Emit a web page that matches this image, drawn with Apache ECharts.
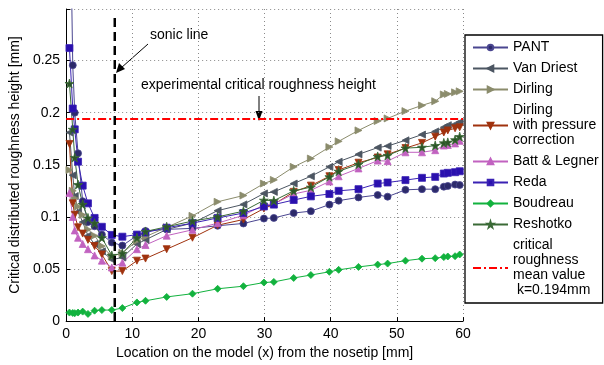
<!DOCTYPE html>
<html>
<head>
<meta charset="utf-8">
<script src="https://cdn.jsdelivr.net/npm/echarts@6/dist/echarts.min.js"></script>
<style>
  html, body { margin: 0; padding: 0; background: #fff; }
  #chart { width: 604px; height: 365px; }
</style>
</head>
<body>
<div id="chart"></div>
<script>
// stations along the model (mm from nosetip)
var stations = [0.5, 1.0, 1.3, 1.8, 2.5, 3.3, 4.3, 5.4, 6.9, 8.5, 10.7, 12.0, 15.2, 19.1, 22.9, 26.8, 29.9, 31.4,
  34.4, 37.0, 39.8, 41.2, 44.2, 47.1, 48.6, 51.3, 53.8, 55.8, 57.1, 57.7, 58.8, 59.5];

// critical roughness height per correlation [mm]
var pant = [0.45, 0.2456, 0.200, 0.161, 0.115, 0.095, 0.091, 0.083, 0.0755, 0.0725, 0.082, 0.0865, 0.088, 0.089, 0.0915, 0.0937,
  0.0984, 0.099, 0.1037, 0.1055, 0.1118, 0.1156, 0.1187, 0.121, 0.1194, 0.126, 0.1266, 0.1266, 0.129, 0.1297, 0.131, 0.1306];
var vanDriest = [0.181, 0.140, 0.120, 0.105, 0.095, 0.082, 0.074, 0.067, 0.059, 0.061, 0.074, 0.078, 0.088, 0.094, 0.106, 0.112,
  0.1225, 0.124, 0.132, 0.139, 0.148, 0.153, 0.160, 0.1665, 0.168, 0.1735, 0.179, 0.182, 0.186, 0.188, 0.189, 0.191];
var dirling = [0.145, 0.125, 0.118, 0.110, 0.102, 0.088, 0.082, 0.072, 0.062, 0.0655, 0.077, 0.081, 0.090, 0.101, 0.1145, 0.1205,
  0.132, 0.1355, 0.148, 0.156, 0.167, 0.1725, 0.183, 0.192, 0.1945, 0.2015, 0.207, 0.211, 0.2175, 0.218, 0.2195, 0.2205];
var dirlingP = [0.170, 0.113, 0.102, 0.090, 0.084, 0.078, 0.072, 0.064, 0.048, 0.048, 0.058, 0.060, 0.069, 0.080, 0.092, 0.0975,
  0.108, 0.112, 0.124, 0.130, 0.139, 0.145, 0.152, 0.157, 0.160, 0.166, 0.171, 0.177, 0.181, 0.183, 0.185, 0.186];
var batt = [0.123, 0.100, 0.087, 0.080, 0.074, 0.069, 0.063, 0.058, 0.0515, 0.056, 0.069, 0.073, 0.082, 0.0876, 0.094, 0.1015,
  0.1115, 0.1125, 0.122, 0.1255, 0.134, 0.139, 0.1465, 0.154, 0.1535, 0.162, 0.162, 0.164, 0.1685, 0.169, 0.1705, 0.173];
var reda = [0.262, 0.204, 0.184, 0.153, 0.130, 0.113, 0.099, 0.0905, 0.0827, 0.081, 0.083, 0.085, 0.0896, 0.094, 0.099, 0.1037,
  0.110, 0.1118, 0.1162, 0.1197, 0.122, 0.125, 0.1266, 0.132, 0.133, 0.1353, 0.1375, 0.1384, 0.1416, 0.1423, 0.1429, 0.1438];
var boudreau = [0.0082, 0.0078, 0.0076, 0.0082, 0.0091, 0.0069, 0.010, 0.0106, 0.0106, 0.0125, 0.0179, 0.0195, 0.0232, 0.0263,
  0.031, 0.0335, 0.037, 0.0376, 0.0414, 0.0442, 0.0473, 0.0492, 0.052, 0.0542, 0.0552, 0.058, 0.0599, 0.0604, 0.0614, 0.062, 0.0623, 0.0639];
var reshotko = [0.228, 0.184, 0.157, 0.131, 0.112, 0.099, 0.094, 0.080, 0.063, 0.065, 0.080, 0.086, 0.0905, 0.096, 0.100, 0.1055,
  0.116, 0.1156, 0.125, 0.1285, 0.1385, 0.1438, 0.1505, 0.158, 0.159, 0.166, 0.1668, 0.1685, 0.171, 0.1715, 0.174, 0.177];

var meanK = 0.194;      // experimental critical roughness mean value
var sonicX = 7.35;      // sonic line location
var xTicks = [0, 10, 20, 30, 40, 50, 60];
var yTicks = [0, 0.05, 0.1, 0.15, 0.2, 0.25];

var FONT = 'Liberation Sans, Arial, Helvetica, sans-serif';
var STAR = 'path://M50,0 L61,35 L98,35 L68,57 L79,91 L50,70 L21,91 L32,57 L2,35 L39,35 Z';
var MEAN_NAME = 'critical\nroughness\nmean value\n k=0.194mm';

function zip(ys) {
  return stations.map(function (x, i) { return [x, ys[i]]; });
}

function curve(name, ys, color, markColor, symbol, size, rotate) {
  return {
    name: name,
    type: 'line',
    data: zip(ys),
    symbol: symbol,
    symbolSize: size,
    symbolRotate: rotate || 0,
    clip: true,
    lineStyle: { color: color, width: 1 },
    itemStyle: { color: markColor, borderColor: color, borderWidth: 0.8 },
    z: 3
  };
}

var chart = echarts.init(document.getElementById('chart'));

var option = {
  animation: false,
  backgroundColor: '#fff',
  textStyle: { fontFamily: FONT },
  grid: { left: 64, right: 141, top: 9, bottom: 37, containLabel: false },
  xAxis: {
    type: 'value', min: 0, max: 60, interval: 10,
    name: 'Location on the model (x) from the nosetip [mm]',
    nameLocation: 'middle', nameGap: 20,
    nameTextStyle: { fontSize: 14, color: '#000', fontFamily: FONT },
    axisLine: { lineStyle: { color: '#000', width: 1 } },
    axisTick: { inside: true, length: 4, lineStyle: { color: '#000' } },
    axisLabel: { fontSize: 14, color: '#000', margin: 6, fontFamily: FONT },
    splitLine: { show: true, lineStyle: { color: '#8a8a8a', type: [1, 3], width: 1 } }
  },
  yAxis: {
    type: 'value', min: 0, max: 0.2995, interval: 0.05,
    name: 'Critical distributed roughness height [mm]',
    nameLocation: 'middle', nameGap: 40,
    nameTextStyle: { fontSize: 14, color: '#000', fontFamily: FONT },
    axisLine: { show: true, lineStyle: { color: '#000', width: 1 } },
    axisTick: { show: true, inside: true, length: 4, lineStyle: { color: '#000' } },
    axisLabel: {
      fontSize: 14, color: '#000', margin: 6, fontFamily: FONT,
      formatter: function (v) { return yTicks.indexOf(+v.toFixed(2)) >= 0 ? String(+v.toFixed(2)) : ''; }
    },
    splitLine: { show: true, lineStyle: { color: '#8a8a8a', type: [1, 3], width: 1 } }
  },
  legend: {
    orient: 'vertical',
    left: 465, top: 35,
    itemWidth: 35, itemHeight: 7, itemGap: 6,
    padding: [5, 4, 5, 7],
    borderColor: '#000', borderWidth: 1.3,
    backgroundColor: '#fff',
    textStyle: { fontSize: 14, lineHeight: 15, color: '#000', fontFamily: FONT },
    data: ['PANT', 'Van Driest', 'Dirling', 'Dirling\nwith pressure\ncorrection', 'Batt & Legner',
      'Reda', 'Boudreau', 'Reshotko',
      { name: MEAN_NAME, itemStyle: { opacity: 0 } }]
  },
  series: [
    curve('PANT', pant, '#4a4690', '#2c2a6a', 'circle', 7),
    curve('Van Driest', vanDriest, '#4c5662', '#4c5662', 'triangle', 7, 90),
    curve('Dirling', dirling, '#8b8c6c', '#8b8c6c', 'triangle', 7, -90),
    curve('Dirling\nwith pressure\ncorrection', dirlingP, '#a0320e', '#a0320e', 'triangle', 7, 180),
    curve('Batt & Legner', batt, '#c162c0', '#c162c0', 'triangle', 7),
    curve('Reda', reda, '#3a22b4', '#2a10ae', 'rect', 7),
    curve('Boudreau', boudreau, '#12b23e', '#12b23e', 'diamond', 7),
    curve('Reshotko', reshotko, '#3a6a36', '#2c5628', STAR, 9),
    {
      name: MEAN_NAME,
      type: 'line',
      data: [[0, meanK], [60, meanK]],
      symbol: 'none',
      lineStyle: { color: '#ff0000', width: 2, type: [8, 3, 2, 3] },
      itemStyle: { color: '#ff0000' },
      z: 4
    },
    {
      name: 'sonic',
      type: 'line',
      data: [[sonicX, 0], [sonicX, 0.294]],
      symbol: 'none',
      lineStyle: { color: '#000', width: 2.5, type: [9, 5] },
      z: 5
    }
  ],
  graphic: [
    { type: 'text', left: 150, top: 28, style: { text: 'sonic line', font: '14px ' + FONT, fill: '#000' } },
    { type: 'line', shape: { x1: 148, y1: 44, x2: 121, y2: 68 }, style: { stroke: '#000', lineWidth: 1 } },
    { type: 'polygon', shape: { points: [[116, 73], [119, 63], [125, 69]] }, style: { fill: '#000' } },
    { type: 'text', left: 141, top: 78, style: { text: 'experimental critical roughness height', font: '14px ' + FONT, fill: '#000' } },
    { type: 'line', shape: { x1: 259, y1: 96, x2: 259, y2: 113 }, style: { stroke: '#000', lineWidth: 1 } },
    { type: 'polygon', shape: { points: [[259, 121], [255.5, 111], [262.5, 111]] }, style: { fill: '#000' } }
  ]
};

chart.setOption(option);
</script>
</body>
</html>
